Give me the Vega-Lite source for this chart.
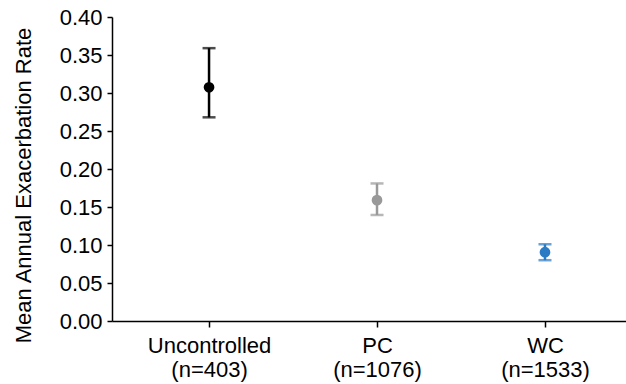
{
  "$schema": "https://vega.github.io/schema/vega-lite/v6.json",
  "width": 514,
  "height": 304,
  "autosize": "none",
  "padding": {"left": 112, "top": 17, "right": 0, "bottom": 63},
  "background": "white",
  "config": {
    "view": {"stroke": null},
    "font": "Liberation Sans",
    "axis": {"grid": false, "domainColor": "black", "tickColor": "black", "labelColor": "black", "titleColor": "black", "domainWidth": 1.5, "tickWidth": 1.5, "labelFontSize": 22, "titleFontSize": 22, "titleFontWeight": "normal", "labelOverlap": false, "labelFont": "Liberation Sans", "titleFont": "Liberation Sans"},
    "axisX": {"labelPadding": 8, "labelLineHeight": 24, "labelAngle": 0, "tickSize": 6},
    "axisY": {"labelPadding": 5, "tickSize": 5}
  },
  "data": {
    "values": [
      {"group": "Uncontrolled (n=403)", "rate": 0.3075, "lo": 0.268, "hi": 0.359, "col": "#000000"},
      {"group": "PC (n=1076)", "rate": 0.159, "lo": 0.1395, "hi": 0.181, "col": "#999999"},
      {"group": "WC (n=1533)", "rate": 0.0905, "lo": 0.080, "hi": 0.101, "col": "#2b7bc4"}
    ]
  },
  "encoding": {
    "x": {
      "field": "group", "type": "nominal", "sort": null,
      "scale": {"type": "point", "padding": 0.53, "align": 0.545},
      "axis": {"title": null, "labelExpr": "split(datum.label, ' ')"}
    },
    "color": {"field": "col", "type": "nominal", "scale": null}
  },
  "layer": [
    {
      "mark": {"type": "rule", "strokeWidth": 2.5},
      "encoding": {
        "y": {"field": "lo", "type": "quantitative", "scale": {"domain": [0, 0.4], "nice": false},
          "axis": {"title": "Mean Annual Exacerbation Rate", "format": ".2f", "values": [0, 0.05, 0.1, 0.15, 0.2, 0.25, 0.3, 0.35, 0.4], "titleX": -77, "titleY": 168}},
        "y2": {"field": "hi"}
      }
    },
    {
      "mark": {"type": "tick", "size": 13, "thickness": 2.5},
      "encoding": {"y": {"field": "lo", "type": "quantitative",
          "axis": {"title": "Mean Annual Exacerbation Rate", "format": ".2f", "values": [0, 0.05, 0.1, 0.15, 0.2, 0.25, 0.3, 0.35, 0.4], "titleX": -77, "titleY": 168}}}
    },
    {
      "mark": {"type": "tick", "size": 13, "thickness": 2.5},
      "encoding": {"y": {"field": "hi", "type": "quantitative",
          "axis": {"title": "Mean Annual Exacerbation Rate", "format": ".2f", "values": [0, 0.05, 0.1, 0.15, 0.2, 0.25, 0.3, 0.35, 0.4], "titleX": -77, "titleY": 168}}}
    },
    {
      "mark": {"type": "point", "filled": true, "size": 115, "opacity": 1},
      "encoding": {"y": {"field": "rate", "type": "quantitative",
          "axis": {"title": "Mean Annual Exacerbation Rate", "format": ".2f", "values": [0, 0.05, 0.1, 0.15, 0.2, 0.25, 0.3, 0.35, 0.4], "titleX": -77, "titleY": 168}}}
    }
  ]
}
